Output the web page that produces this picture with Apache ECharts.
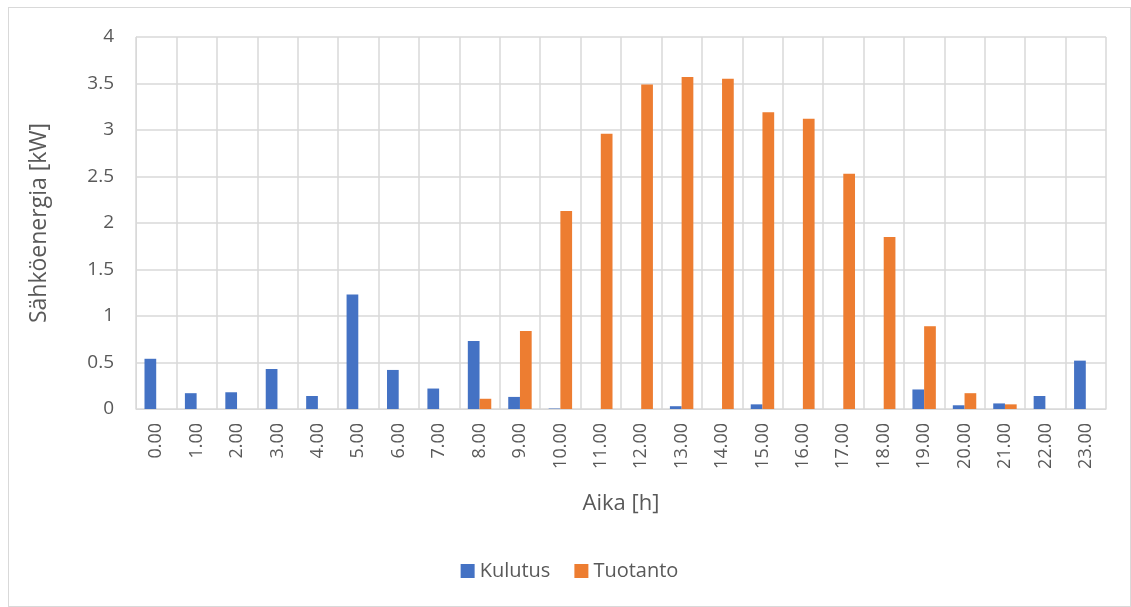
<!DOCTYPE html>
<html>
<head>
<meta charset="utf-8">
<script src="https://cdn.jsdelivr.net/npm/echarts@6/dist/echarts.min.js"></script>
<style>
  html, body { margin: 0; padding: 0; background: #fff; }
  #chart { position: absolute; left: 8px; top: 7px; width: 1123px; height: 600px; border: 1px solid #d9d9d9; box-sizing: border-box; }
</style>
</head>
<body>
<div id="chart"></div>
<script>
// tunnit
const hours = ["0.00","1.00","2.00","3.00","4.00","5.00","6.00","7.00","8.00","9.00","10.00","11.00",
  "12.00","13.00","14.00","15.00","16.00","17.00","18.00","19.00","20.00","21.00","22.00","23.00"];
// kulutus [kW]
const kulutus = [0.54,0.17,0.18,0.43,0.14,1.23,0.42,0.22,0.73,0.13,0.005,0,
  0,0.03,0,0.05,0,0,0,0.21,0.04,0.06,0.14,0.52];
// tuotanto [kW]
const tuotanto = [0,0,0,0,0,0,0,0,0.11,0.84,2.13,2.96,
  3.49,3.57,3.55,3.19,3.12,2.53,1.85,0.89,0.17,0.05,0,0];

const textColor = "#595959";
const gridColor = "#d9d9d9";
const font = "'Open Sans', 'Noto Sans', sans-serif";

const myChart = echarts.init(document.getElementById("chart"));
const option = {
  animation: false,
  color: ["#4472c4", "#ed7d31"],
  textStyle: { fontFamily: font },
  grid: { left: 127, right: 24, top: 29, bottom: 197, containLabel: false },
  legend: {
    bottom: 20,
    left: "center",
    itemWidth: 14,
    itemHeight: 14,
    itemGap: 24,
    icon: "rect",
    textStyle: { color: textColor, fontSize: 20, fontFamily: font },
    data: ["Kulutus", "Tuotanto"],
  },
  xAxis: {
    type: "category",
    data: hours,
    name: "Aika [h]",
    nameLocation: "middle",
    nameGap: 84,
    nameTextStyle: { color: textColor, fontSize: 22, fontFamily: font },
    axisTick: { show: false },
    axisLine: { lineStyle: { color: gridColor, width: 1 } },
    axisLabel: { color: textColor, fontSize: 18, rotate: 90, margin: 14, interval: 0 },
    splitLine: { show: true, lineStyle: { color: gridColor, width: 1.5 } },
  },
  yAxis: {
    type: "value",
    min: 0,
    max: 4,
    interval: 0.5,
    name: "Sähköenergia [kW]",
    nameLocation: "middle",
    nameGap: 85,
    nameRotate: 90,
    nameTextStyle: { color: textColor, fontSize: 23, fontFamily: font },
    axisLine: { show: true, lineStyle: { color: gridColor, width: 1 } },
    axisTick: { show: false },
    axisLabel: { color: textColor, fontSize: 19, margin: 22 },
    splitLine: { lineStyle: { color: gridColor, width: 1.5 } },
  },
  series: [
    { name: "Kulutus", type: "bar", data: kulutus, barGap: "0%", barCategoryGap: "42%" },
    { name: "Tuotanto", type: "bar", data: tuotanto, barGap: "0%", barCategoryGap: "42%" },
  ],
};
myChart.setOption(option);
</script>
</body>
</html>
